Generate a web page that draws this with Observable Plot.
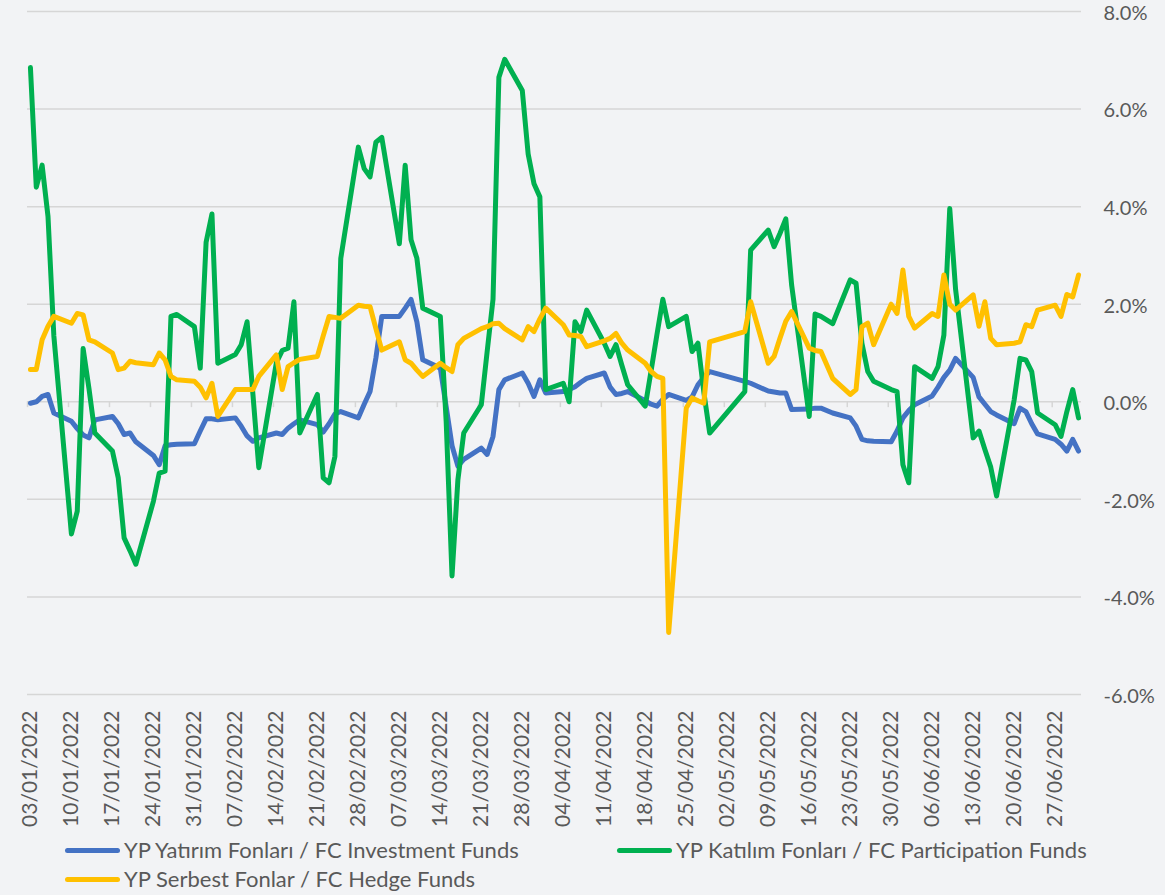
<!DOCTYPE html>
<html><head><meta charset="utf-8">
<script src="https://cdn.jsdelivr.net/npm/d3@7"></script>
<script src="https://cdn.jsdelivr.net/npm/@observablehq/plot@0.6"></script>
<style>
html,body{margin:0;padding:0;background:#f2f3f5;}
#wrap{width:1165px;height:895px;position:relative;overflow:hidden;font-family:Lato,"Open Sans",sans-serif;color:#595959;}
#chart svg{display:block;}
.legend-item{position:absolute;display:flex;align-items:center;font-size:22px;line-height:26px;white-space:nowrap;}
.legend-item .sw{width:55px;height:5px;border-radius:3px;margin-right:4px;}
</style></head>
<body><div id="wrap"><div id="chart"></div><div id="legend"></div></div>
<script>
// Business days (2022) present in the data, MM-DD
const dates = [
 "01-03","01-04","01-05","01-06","01-07",
 "01-10","01-11","01-12","01-13","01-14",
 "01-17","01-18","01-19","01-20","01-21",
 "01-24","01-25","01-26","01-27","01-28",
 "01-31","02-01","02-02","02-03","02-04",
 "02-07","02-08","02-09","02-10","02-11",
 "02-14","02-15","02-16","02-17","02-18",
 "02-21","02-22","02-23","02-24","02-25",
 "02-28","03-01","03-02","03-03","03-04",
 "03-07","03-08","03-09","03-10","03-11",
 "03-14","03-15","03-16","03-17","03-18",
 "03-21","03-22","03-23","03-24","03-25",
 "03-28","03-29","03-30","03-31","04-01",
 "04-04","04-05","04-06","04-07","04-08",
 "04-11","04-12","04-13","04-14","04-15",
 "04-18","04-19","04-20","04-21","04-22",
 "04-25","04-26","04-27","04-28","04-29",
 "05-05","05-06",
 "05-09","05-10","05-11","05-12","05-13",
 "05-16","05-17","05-18","05-20",
 "05-23","05-24","05-25","05-26","05-27",
 "05-30","05-31","06-01","06-02","06-03",
 "06-06","06-07","06-08","06-09","06-10",
 "06-13","06-14","06-15","06-16","06-17",
 "06-20","06-21","06-22","06-23","06-24",
 "06-27","06-28","06-29","06-30","07-01"
];

// YP Yatırım Fonları / FC Investment Funds (%)
const investment = [
 -0.03,0.00,0.11,0.15,-0.23,
 -0.40,-0.55,-0.68,-0.74,-0.37,
 -0.30,-0.45,-0.67,-0.64,-0.82,
 -1.10,-1.29,-0.90,-0.88,-0.87,
 -0.86,-0.60,-0.35,-0.35,-0.37,
 -0.33,-0.50,-0.70,-0.81,-0.74,
 -0.64,-0.67,-0.54,-0.45,-0.37,
 -0.47,-0.62,-0.45,-0.25,-0.20,
 -0.33,-0.05,0.21,0.90,1.75,
 1.75,1.92,2.10,1.64,0.86,
 0.69,-0.10,-0.90,-1.32,-1.18,
 -0.95,-1.08,-0.71,0.25,0.45,
 0.59,0.38,0.11,0.45,0.18,
 0.21,0.25,0.31,0.40,0.48,
 0.59,0.30,0.15,0.17,0.21,
 0.02,-0.05,-0.09,0.05,0.15,
 0.03,0.10,0.35,0.50,0.62,
 0.42,0.38,
 0.22,0.20,0.18,0.18,-0.16,
 -0.15,-0.13,-0.13,-0.23,
 -0.33,-0.50,-0.77,-0.80,-0.81,
 -0.82,-0.60,-0.33,-0.18,-0.06,
 0.12,0.30,0.50,0.65,0.89,
 0.50,0.10,-0.05,-0.20,-0.27,
 -0.45,-0.13,-0.20,-0.45,-0.66,
 -0.77,-0.87,-1.01,-0.77,-1.01
];

// YP Katılım Fonları / FC Participation Funds (%)
const participation = [
 6.85,4.40,4.85,3.80,1.35,
 -2.71,-2.24,1.09,0.27,-0.64,
 -1.01,-1.56,-2.79,-3.05,-3.33,
 -2.04,-1.46,-1.42,1.75,1.79,
 1.54,0.69,3.27,3.85,0.79,
 0.97,1.17,1.64,0.15,-1.35,
 0.80,1.05,1.10,2.05,-0.64,
 0.15,-1.56,-1.66,-1.12,2.94,
 5.22,4.78,4.61,5.32,5.42,
 3.24,4.85,3.32,2.94,1.92,
 1.75,-0.40,-3.57,-1.60,-0.64,
 -0.06,1.03,2.10,6.65,7.02,
 6.38,5.08,4.47,4.20,0.25,
 0.38,0.00,1.64,1.44,1.88,
 1.20,0.93,1.17,0.75,0.35,
 -0.09,0.64,1.38,2.10,1.54,
 1.75,1.03,1.20,0.20,-0.64,
 0.21,3.11,
 3.52,3.18,3.45,3.75,2.39,
 -0.30,1.80,1.75,1.60,
 2.50,2.43,1.20,0.62,0.42,
 0.25,0.21,-1.29,-1.66,0.72,
 0.48,0.72,1.37,3.96,2.30,
 -0.74,-0.60,-0.98,-1.34,-1.93,
 0.04,0.89,0.86,0.62,-0.23,
 -0.47,-0.71,-0.20,0.25,-0.33
];

// YP Serbest Fonlar / FC Hedge Funds (%)
const hedge = [
 0.66,0.66,1.27,1.55,1.75,
 1.61,1.81,1.78,1.27,1.23,
 1.00,0.66,0.69,0.83,0.80,
 0.76,1.00,0.86,0.52,0.45,
 0.42,0.30,0.08,0.38,-0.30,
 0.25,0.25,0.25,0.25,0.52,
 0.96,0.25,0.72,0.80,0.87,
 0.93,1.35,1.75,1.73,1.71,
 1.98,1.96,1.95,1.50,1.06,
 1.23,0.86,0.79,0.65,0.52,
 0.79,0.70,0.62,1.17,1.30,
 1.50,1.54,1.60,1.61,1.50,
 1.27,1.54,1.44,1.70,1.92,
 1.58,1.37,1.36,1.34,1.13,
 1.25,1.30,1.40,1.20,1.06,
 0.79,0.62,0.52,0.48,-4.73,
 -0.13,0.08,0.02,-0.03,1.23,
 1.44,2.05,
 0.79,0.93,1.30,1.65,1.85,
 1.10,1.05,1.03,0.48,
 0.15,0.25,1.54,1.61,1.17,
 2.00,1.81,2.70,1.75,1.51,
 1.81,1.75,2.60,2.00,1.88,
 2.19,1.55,2.05,1.30,1.17,
 1.20,1.23,1.58,1.54,1.88,
 1.98,1.75,2.20,2.15,2.60
];

const seriesNames = [
 "YP Yatırım Fonları / FC Investment Funds",
 "YP Katılım Fonları / FC Participation Funds",
 "YP Serbest Fonlar / FC Hedge Funds"
];
const seriesColors = ["#4472C4", "#00B050", "#FFC000"];
const yTicks = [-6, -4, -2, 0, 2, 4, 6, 8];
const weekTicks = [
 "01-03","01-10","01-17","01-24","01-31","02-07","02-14","02-21","02-28",
 "03-07","03-14","03-21","03-28","04-04","04-11","04-18","04-25","05-02",
 "05-09","05-16","05-23","05-30","06-06","06-13","06-20","06-27"
];
const xDomain = ["01-03", "07-02"];

const day0 = s => new Date("2022-" + s + "T00:00:00Z");
const noon = s => new Date("2022-" + s + "T12:00:00Z");

const seriesValues = [investment, participation, hedge];
const rows = [];
seriesValues.forEach((vals, k) => vals.forEach((v, i) => rows.push({date: noon(dates[i]), value: v, series: seriesNames[k]})));

const chart = Plot.plot({
  width: 1165, height: 835,
  marginLeft: 27, marginRight: 84, marginTop: 11, marginBottom: 141,
  style: {fontFamily: "Lato, 'Open Sans', sans-serif", fontSize: "20px", color: "#595959", background: "transparent", overflow: "visible"},
  x: {type: "utc", domain: xDomain.map(day0)},
  y: {domain: [-6, 8]},
  color: {domain: seriesNames, range: seriesColors},
  marks: [
    Plot.ruleY(yTicks, {stroke: "#d6d6d6", strokeWidth: 1.5}),
    Plot.ruleX(weekTicks.map(day0), {y1: 0, y2: -0.12, stroke: "#d6d6d6", strokeWidth: 1.5}),
    Plot.axisY(yTicks, {anchor: "right", tickSize: 0, tickPadding: 22, dy: 2, tickFormat: d => d.toFixed(1) + "%", label: null}),
    Plot.axisX(weekTicks.map(noon), {anchor: "bottom", tickSize: 0, tickPadding: 16, tickRotate: -90, fontSize: 21, tickFormat: d3.utcFormat("%d/%m/%Y"), label: null}),
    Plot.line(rows, {x: "date", y: "value", z: "series", stroke: "series", strokeWidth: 5, strokeLinejoin: "round", strokeLinecap: "round"})
  ]
});
document.getElementById("chart").appendChild(chart);

// Legend (HTML, below the SVG)
const legendPos = [[65, 837], [617, 837], [65, 866]];
const legend = document.getElementById("legend");
seriesNames.forEach((name, k) => {
  const item = document.createElement("div");
  item.className = "legend-item";
  item.style.left = legendPos[k][0] + "px";
  item.style.top = legendPos[k][1] + "px";
  const sw = document.createElement("span");
  sw.className = "sw";
  sw.style.background = seriesColors[k];
  const tx = document.createElement("span");
  tx.textContent = name;
  item.appendChild(sw); item.appendChild(tx);
  legend.appendChild(item);
});
</script>
</body></html>
